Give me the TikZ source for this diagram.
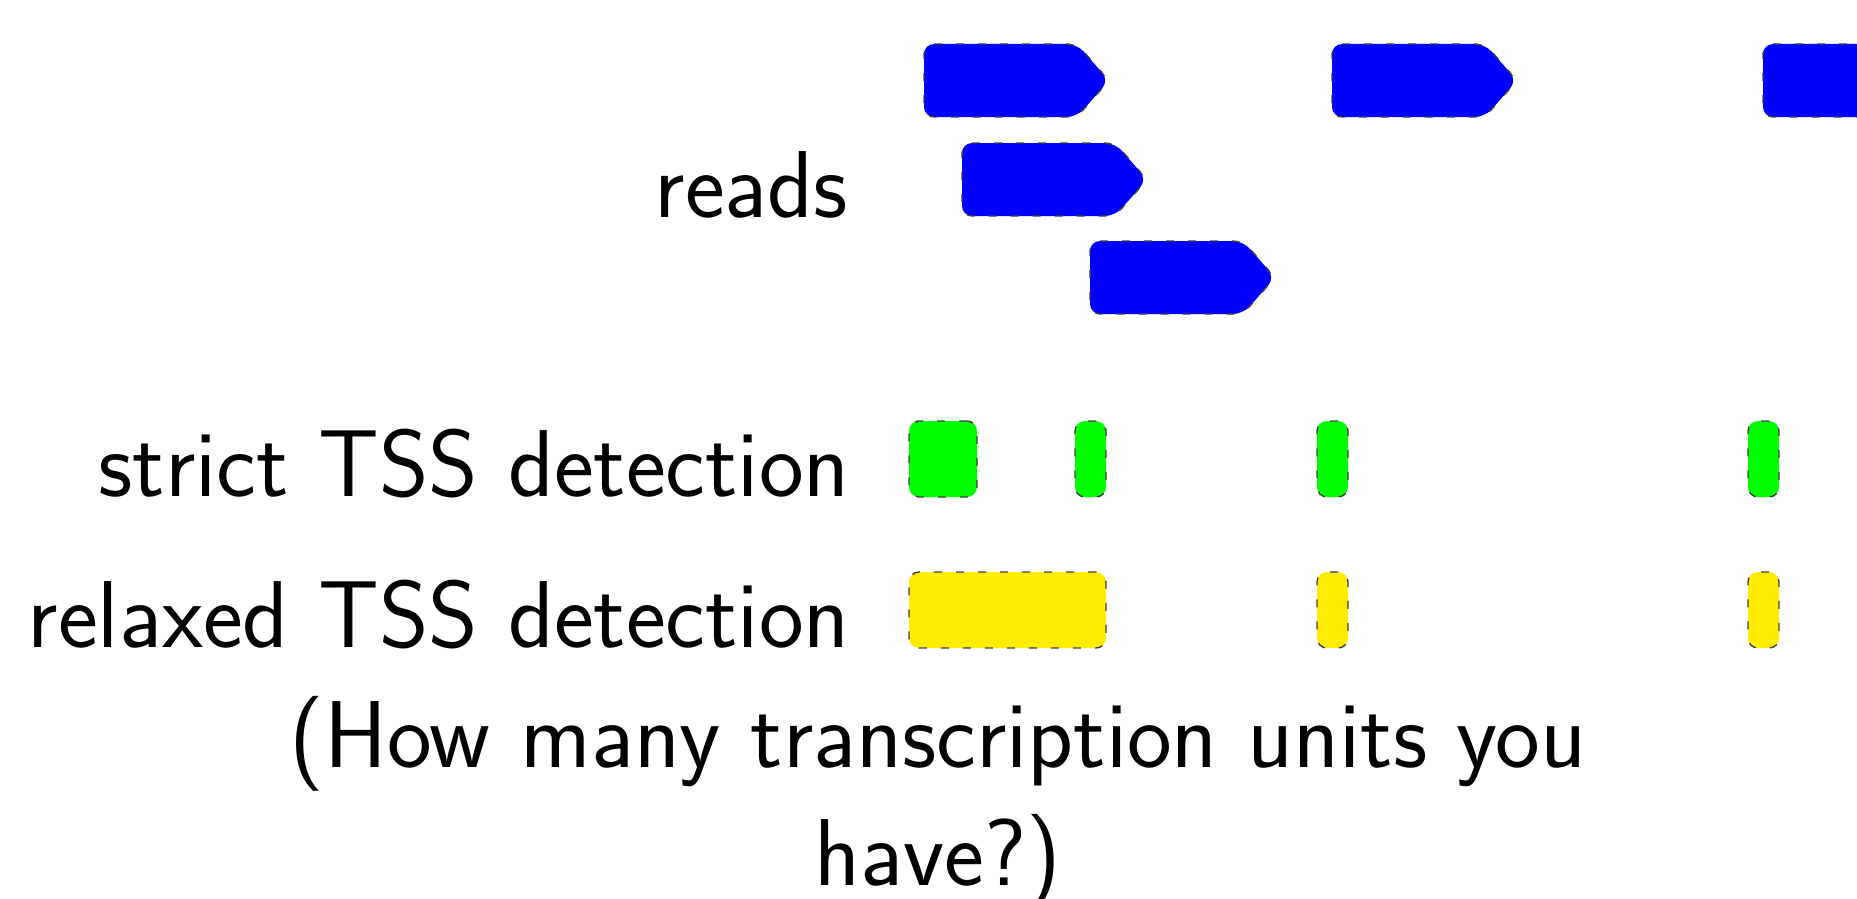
\documentclass[tikz,border=0pt]{standalone}
\usepackage{tikz}
\definecolor{rblue}{RGB}{0,0,255}
\definecolor{sgreen}{RGB}{0,255,0}
\definecolor{ryellow}{RGB}{255,236,0}
\tikzset{
  outl/.style={draw=black!75, line width=1.4pt, dash pattern=on 8pt off 14pt, rounded corners=10pt},
  readshape/.style={outl, fill=rblue},
  box/.style={outl, rectangle, inner sep=0pt},
  lab/.style={font=\sffamily\fontsize{95}{118}\selectfont, inner sep=0pt}
}
\newcommand{\readarrow}[3]{% #1 left x, #2 top y, #3 name
  \draw[readshape] (#1,#2) -- ++(153,0) -- ++(32,36.5) -- ++(-32,36.5) -- ++(-153,0) -- cycle;
  \coordinate (#3) at (#1+92,#2+36.5);
}
\begin{document}
\begin{tikzpicture}[x=1pt,y=-1pt]
\useasboundingbox (0,0) rectangle (1857,899);
\clip (0,0) rectangle (1857,899);
% reads
\readarrow{924}{44}{r1}
\readarrow{962}{143}{r2}
\readarrow{1090}{241}{r3}
\readarrow{1332}{44}{r4}
\readarrow{1763}{44}{r5}
% strict
\node[box, fill=sgreen, minimum width=68pt, minimum height=76pt] (s1) at (943,459) {};
\node[box, fill=sgreen, minimum width=31pt, minimum height=76pt] (s2) at (1090.5,459) {};
\node[box, fill=sgreen, minimum width=31pt, minimum height=76pt] (s3) at (1332.5,459) {};
\node[box, fill=sgreen, minimum width=31pt, minimum height=76pt] (s4) at (1763.5,459) {};
% relaxed
\node[box, fill=ryellow, minimum width=197pt, minimum height=76pt] (y1) at (1007.5,610) {};
\node[box, fill=ryellow, minimum width=31pt, minimum height=76pt] (y2) at (1332.5,610) {};
\node[box, fill=ryellow, minimum width=31pt, minimum height=76pt] (y3) at (1763.5,610) {};
% labels
\node[lab, anchor=base east] (lreads) at (848,217) {reads};
\node[lab, anchor=base east] (lstrict) at (850,496) {strict TSS detection};
\node[lab, anchor=base east] (lrelaxed) at (850,647) {relaxed TSS detection};
\node[lab, anchor=base, align=center] (lq) at (938,885) {(How many transcription units you\\have?)};
\end{tikzpicture}
\end{document}
